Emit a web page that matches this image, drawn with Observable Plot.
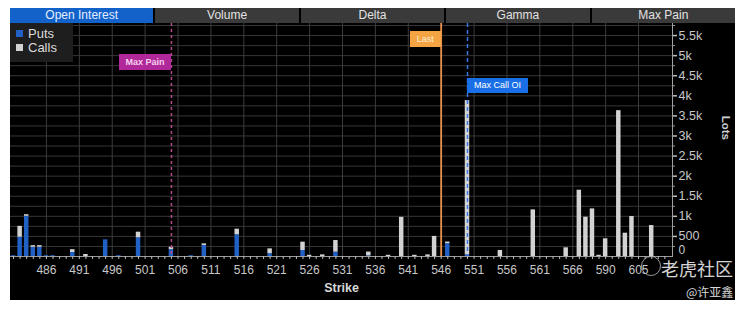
<!DOCTYPE html>
<html>
<head>
<meta charset="utf-8">
<script src="https://cdn.jsdelivr.net/npm/d3@7"></script>
<script src="https://cdn.jsdelivr.net/npm/@observablehq/plot@0.6"></script>
<style>
  body { margin: 0; background: #fff; }
  #wrap { position: absolute; left: 10px; top: 8px; width: 725px; height: 292px; background: #000; overflow: hidden; font-family: "Liberation Sans", Arial, sans-serif; }
  #tabs { position: absolute; left: 0; top: 0; width: 725px; height: 15px; display: flex; gap: 2px; }
  #tabs div { flex: 1; background: #3a3a3a; color: #e2e2e2; font-size: 12px; line-height: 15px; text-align: center; }
  #tabs div.active { background: #1262c9; color: #e4edff; }
  #chart { position: absolute; left: 0; top: 15px; }
  .box { position: absolute; font-size: 9px; line-height: 16px; text-align: center; white-space: nowrap; }
  #legend { position: absolute; left: 0; top: 15px; width: 63px; height: 39px; background: #1e1e1e; font-size: 13px; color: #dcdcdc; }
  #legend .it { position: absolute; left: 6px; height: 14px; line-height: 14px; }
  #legend .sw { display: inline-block; width: 7px; height: 7px; margin-right: 5px; vertical-align: 1px; }
</style>
</head>
<body>
<div id="wrap">
  <div id="tabs"></div>
  <div id="chart"></div>
  <div id="legend"></div>
</div>
<script>
const tabs = ["Open Interest", "Volume", "Delta", "Gamma", "Max Pain"];
const seriesNames = ["Puts", "Calls"];
const seriesColors = ["#2160c4", "#d2d2d2"];

const strikes = [
  "481","482","483","484","485","486","487","488","489","490",
  "491","492","493","494","495","496","497","498","499","500",
  "501","502","503","504","505","506","507","508","509","510",
  "511","512","513","514","515","516","517","518","519","520",
  "521","522","523","524","525","526","527","528","529","530",
  "531","532","533","534","535","536","537","538","539","540",
  "541","542","543","544","545","546","547","548","549","550",
  "551","552","553","554","555","556","557","558","559","560",
  "561","562","563","564","565","566","567","568","569","570",
  "590","595","600","601","602","605","606","610","611","615"
];
const puts = [
  20,480,1000,230,230,20,20,0,0,100,
  0,0,0,0,415,0,20,0,0,465,
  0,0,0,0,170,0,0,20,0,275,
  0,0,0,0,540,0,0,0,0,70,
  0,0,0,0,150,0,0,0,0,108,
  0,0,0,0,15,0,0,0,0,0,
  0,0,0,0,0,0,320,0,0,40,
  0,0,0,0,0,0,0,0,0,0,
  0,0,0,0,0,0,0,0,0,0,
  0,0,0,0,0,0,0,0,0,0
];
const calls = [
  0,270,40,40,40,0,0,0,0,70,
  0,50,0,0,0,0,0,0,0,140,
  0,0,0,0,60,0,0,0,0,40,
  0,0,0,0,140,0,0,0,0,120,
  0,0,0,0,207,30,0,40,0,290,
  0,0,0,0,95,0,0,30,0,975,
  0,30,0,40,500,0,40,0,0,3840,
  0,0,0,0,150,0,0,0,0,1160,
  0,0,0,0,216,0,1650,978,1185,30,
  440,0,3630,580,995,0,0,770,0,0
];
const xLabelStrikes = ["486","491","496","501","506","511","516","521","526","531","536","541","546","551","556","561","566","590","605"];
const yLabelTicks = [500,1000,1500,2000,2500,3000,3500,4000,4500,5000,5500];
const yMinorTicks = [250,750,1250,1750,2250,2750,3250,3750,4250,4750,5250,5750];
const yGridTicks = [250,500,750,1000,1250,1500,1750,2000,2250,2500,2750,3000,3250,3500,3750,4000,4250,4500,4750,5000,5250,5500,5750];
const maxPainStrike = "505";
const lastStrike = "546";
const maxCallStrike = "550";

// tabs
const tabsEl = document.getElementById("tabs");
tabs.forEach((t, i) => {
  const d = document.createElement("div");
  d.textContent = t;
  if (i === 0) d.className = "active";
  tabsEl.appendChild(d);
});

// legend
const legendEl = document.getElementById("legend");
seriesNames.forEach((n, i) => {
  const it = document.createElement("div");
  it.className = "it";
  it.innerHTML = `<span class="sw" style="background:${seriesColors[i]}"></span>${n}`;
  it.style.top = (4 + i * 14) + "px";
  legendEl.appendChild(it);
});

const table = [];
strikes.forEach((s, i) => {
  if (puts[i] > 0) table.push({strike: s, type: "Puts", value: puts[i]});
  if (calls[i] > 0) table.push({strike: s, type: "Calls", value: calls[i]});
});

const fmtY = d => d < 1000 ? String(d) : (d / 1000) + "k";
const xLabelSet = new Set(xLabelStrikes);

const plot = Plot.plot({
  width: 725,
  height: 277,
  marginTop: 0,
  marginLeft: 0,
  marginRight: 63,
  marginBottom: 44,
  style: {background: "transparent", color: "#c8c8c8", fontFamily: "Liberation Sans, Arial, sans-serif", fontSize: "12px"},
  x: {type: "band", domain: strikes, range: [-1.3, 658.7], padding: 0.32},
  y: {domain: [0, 5800]},
  color: {domain: seriesNames, range: seriesColors},
  marks: [
    Plot.gridY(yGridTicks, {stroke: "#363636", strokeOpacity: 1}),
    Plot.gridX(xLabelStrikes, {stroke: "#3c3c3c", strokeOpacity: 1}),
    Plot.barY(table, {x: "strike", y: "value", fill: "type", order: null}),
    Plot.ruleY([0], {stroke: "#9a9a9a"}),
    Plot.axisX(strikes, {tickSize: 3, tickPadding: 6, stroke: "#bbbbbb", fill: "#c8c8c8", fontSize: 12,
      tickFormat: d => xLabelSet.has(d) ? d : "", label: null}),
    Plot.ruleX([maxPainStrike], {x: d => d, stroke: "#b4488c", strokeWidth: 1.5, strokeDasharray: "3,3"}),
    Plot.ruleX([lastStrike], {x: d => d, stroke: "#e8914c", strokeWidth: 1.8}),
    Plot.ruleX([maxCallStrike], {x: d => d, stroke: "#3a78e0", strokeWidth: 1.5, strokeDasharray: "4,3"}),
    Plot.frame({anchor: "right", stroke: "#a0a0a0"}),
    Plot.axisY(yLabelTicks, {anchor: "right", tickSize: 4, tickPadding: 2, stroke: "#bbbbbb", strokeWidth: 1.5, fill: "#c8c8c8", fontSize: 12.5, tickFormat: fmtY, label: null}),
    Plot.axisY(yMinorTicks, {anchor: "right", tickSize: 2, stroke: "#999", tickFormat: () => "", label: null}),
    Plot.text([0], {y: d => d, text: () => "0", frameAnchor: "right", textAnchor: "start", dx: 6, dy: -6, fill: "#c8c8c8", fontSize: 12}),
    Plot.text(["Lots"], {text: d => d, frameAnchor: "right", dx: 53, rotate: 90, fill: "#d0d0d0", fontSize: 11.5, fontWeight: 600}),
    Plot.text(["Strike"], {text: d => d, frameAnchor: "bottom", dy: 35, fill: "#d8d8d8", fontSize: 12.5, fontWeight: 600})
  ]
});
document.getElementById("chart").appendChild(plot);

// annotation boxes positioned with the x scale
const wrap = document.getElementById("wrap");
const xs = plot.scale("x");
const cx = s => xs.apply(s) + xs.bandwidth / 2;
function box(text, left, top, w, h, bg, fg, weight) {
  const b = document.createElement("div");
  b.className = "box";
  b.textContent = text;
  Object.assign(b.style, {left: left + "px", top: top + "px", width: w + "px", height: h + "px", lineHeight: h + "px", background: bg, color: fg, fontWeight: weight});
  wrap.appendChild(b);
}
box("Max Pain", cx(maxPainStrike) - 52, 46, 52, 16, "#b0289a", "#f6d2ee", "bold");
box("Last", cx(lastStrike) - 31, 23, 31, 16, "#f4a443", "#fff0d6", "normal");
box("Max Call OI", cx(maxCallStrike), 70, 61, 15, "#1a6fe6", "#ffffff", "normal");

// watermark
const logo = document.createElement("div");
Object.assign(logo.style, {position: "absolute", left: "631px", top: "248px", width: "18px", height: "18px", borderRadius: "50%", border: "1.5px solid #bbb", opacity: "0.8"});
wrap.appendChild(logo);
const wm = document.createElement("div");
Object.assign(wm.style, {position: "absolute", left: "651px", top: "251px", whiteSpace: "nowrap", fontFamily: "'Noto Sans CJK SC', sans-serif", fontSize: "18px", lineHeight: "18px", color: "#e6e6e6", opacity: "0.92"});
wm.textContent = "老虎社区";
wrap.appendChild(wm);
const wm2 = document.createElement("div");
Object.assign(wm2.style, {position: "absolute", left: "676px", top: "276px", whiteSpace: "nowrap", fontFamily: "'Noto Sans CJK SC', sans-serif", fontSize: "12px", lineHeight: "16px", color: "#d8d8d8"});
wm2.textContent = "@许亚鑫";
wrap.appendChild(wm2);
</script>
</body>
</html>
